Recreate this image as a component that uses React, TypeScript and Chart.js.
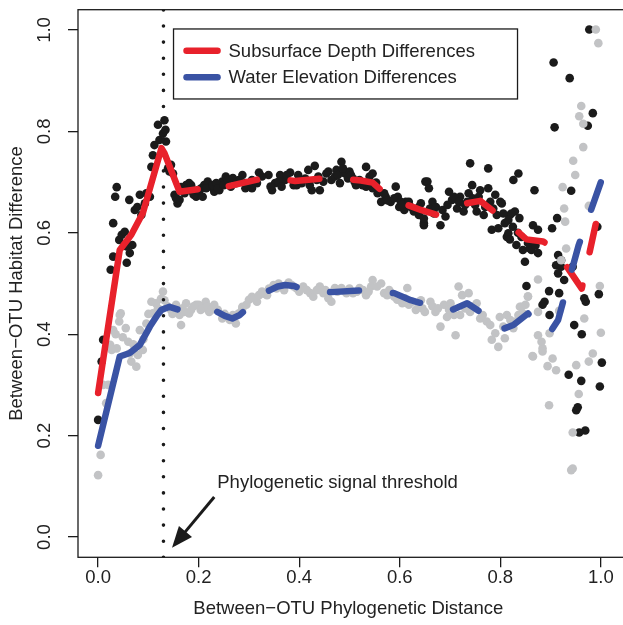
import React, { useEffect, useRef } from 'react';
import { Chart, registerables } from 'chart.js';
Chart.register(...registerables);

// ---------- data ----------
const X_TICKS = [0, 0.2, 0.4, 0.6, 0.8, 1.0];
const Y_TICKS = [0, 0.2, 0.4, 0.6, 0.8, 1.0];
const X_RANGE = [-0.04, 1.0355];
const Y_RANGE = [-0.04, 1.04];
const X_TITLE = 'Between\u2212OTU Phylogenetic Distance';
const Y_TITLE = 'Between\u2212OTU Habitat Difference';
const THRESHOLD_X = 0.13;
const ANNOT_TEXT = 'Phylogenetic signal threshold';
const ANNOT_POS = [0.237, 0.107];
const ARROW_FROM = [0.231, 0.079];
const ARROW_TO = [0.147, -0.021];
const LEGEND_POS = [0.15, 1.002];
const DEPTH_LABEL = 'Subsurface Depth Differences';
const ELEV_LABEL = 'Water Elevation Differences';

const DEPTH_LINE = [
  [0, 0.284], [0.043, 0.566], [0.066, 0.596], [0.089, 0.639], [0.126, 0.767], [0.132, 0.757],
  [0.162, 0.681], [0.198, 0.686], [0.26, 0.692], [0.339, 0.71], [0.392, 0.702], [0.467, 0.709],
  [0.523, 0.703], [0.546, 0.699], [0.582, 0.667], [0.615, 0.655], [0.642, 0.645], [0.675, 0.635],
  [0.704, 0.653], [0.76, 0.663], [0.809, 0.625], [0.852, 0.587], [0.885, 0.583], [0.911, 0.564],
  [0.962, 0.49], [1.0, 0.664],
];

const ELEV_LINE = [
  [0, 0.18], [0.043, 0.356], [0.063, 0.363], [0.083, 0.379], [0.103, 0.415], [0.118, 0.438],
  [0.126, 0.448], [0.142, 0.454], [0.158, 0.449], [0.2, 0.447], [0.237, 0.444], [0.252, 0.436],
  [0.267, 0.431], [0.282, 0.438], [0.296, 0.451], [0.32, 0.475], [0.342, 0.487], [0.357, 0.494],
  [0.372, 0.497], [0.39, 0.495], [0.405, 0.489], [0.464, 0.483], [0.533, 0.487], [0.589, 0.481],
  [0.622, 0.467], [0.655, 0.458], [0.68, 0.455], [0.704, 0.448], [0.734, 0.461], [0.76, 0.444],
  [0.776, 0.425], [0.799, 0.408], [0.826, 0.418], [0.855, 0.441], [0.878, 0.412], [0.898, 0.402],
  [0.915, 0.428], [0.956, 0.576], [1.0, 0.7],
];

const DEPTH_POINTS = [
  [0.0, 0.231], [0.007, 0.346], [0.01, 0.389], [0.025, 0.527], [0.03, 0.553], [0.03, 0.619],
  [0.034, 0.671], [0.037, 0.69], [0.042, 0.586], [0.047, 0.596], [0.053, 0.602], [0.057, 0.573],
  [0.057, 0.541], [0.063, 0.56], [0.068, 0.576], [0.062, 0.665], [0.073, 0.645], [0.078, 0.651],
  [0.083, 0.675], [0.086, 0.635], [0.093, 0.658], [0.096, 0.678], [0.103, 0.671], [0.106, 0.73],
  [0.109, 0.753], [0.112, 0.773], [0.119, 0.813], [0.122, 0.783], [0.129, 0.796], [0.134, 0.803],
  [0.132, 0.822], [0.135, 0.78], [0.139, 0.727], [0.142, 0.721], [0.149, 0.717], [0.152, 0.675],
  [0.158, 0.658], [0.162, 0.665], [0.168, 0.684], [0.175, 0.694], [0.181, 0.698], [0.188, 0.681],
  [0.195, 0.671], [0.201, 0.678], [0.211, 0.694], [0.218, 0.701], [0.224, 0.691], [0.231, 0.681],
  [0.241, 0.684], [0.247, 0.701], [0.254, 0.711], [0.264, 0.691], [0.274, 0.698], [0.287, 0.714],
  [0.293, 0.698], [0.3, 0.694], [0.306, 0.704], [0.32, 0.719], [0.316, 0.698], [0.339, 0.714],
  [0.346, 0.684], [0.352, 0.698], [0.362, 0.714], [0.372, 0.704], [0.382, 0.719], [0.389, 0.694],
  [0.398, 0.714], [0.405, 0.698], [0.418, 0.724], [0.425, 0.684], [0.431, 0.732], [0.435, 0.704],
  [0.441, 0.684], [0.454, 0.717], [0.464, 0.704], [0.474, 0.724], [0.481, 0.698], [0.484, 0.74],
  [0.491, 0.717], [0.5, 0.721], [0.507, 0.707], [0.513, 0.694], [0.533, 0.73], [0.54, 0.711],
  [0.546, 0.717], [0.533, 0.691], [0.546, 0.688], [0.556, 0.678], [0.563, 0.661], [0.572, 0.671],
  [0.582, 0.661], [0.592, 0.691], [0.596, 0.671], [0.599, 0.651], [0.612, 0.661], [0.609, 0.645],
  [0.622, 0.651], [0.632, 0.645], [0.642, 0.658], [0.638, 0.635], [0.648, 0.615], [0.651, 0.701],
  [0.74, 0.737], [0.776, 0.727], [0.836, 0.717], [0.826, 0.704], [0.655, 0.701], [0.658, 0.688],
  [0.868, 0.684], [0.648, 0.619], [0.665, 0.661], [0.668, 0.638], [0.681, 0.615], [0.691, 0.632],
  [0.698, 0.681], [0.704, 0.665], [0.714, 0.648], [0.72, 0.671], [0.727, 0.642], [0.734, 0.661],
  [0.737, 0.678], [0.744, 0.694], [0.753, 0.642], [0.76, 0.684], [0.767, 0.635], [0.776, 0.688],
  [0.783, 0.606], [0.79, 0.675], [0.796, 0.609], [0.803, 0.658], [0.809, 0.619], [0.813, 0.592],
  [0.819, 0.635], [0.829, 0.642], [0.832, 0.576], [0.838, 0.629], [0.845, 0.566], [0.849, 0.543],
  [0.862, 0.566], [0.865, 0.615], [0.875, 0.606], [0.875, 0.56],
  [0.977, 1.001], [0.906, 0.936], [0.938, 0.905], [0.984, 0.836], [0.974, 0.811], [0.908, 0.808],
  [0.8, 0.661], [0.822, 0.638], [0.816, 0.599], [0.819, 0.587], [0.941, 0.683], [0.913, 0.629],
  [0.903, 0.609], [0.993, 0.612], [0.859, 0.569], [0.915, 0.556], [0.921, 0.546], [0.911, 0.536],
  [0.921, 0.533], [0.944, 0.533], [0.915, 0.52], [0.927, 0.507], [0.852, 0.495], [0.897, 0.485],
  [0.917, 0.481], [0.996, 0.479], [0.967, 0.471], [0.97, 0.464], [0.888, 0.464], [0.884, 0.458],
  [0.898, 0.438], [0.947, 0.418], [0.962, 0.4], [1.002, 0.344], [0.936, 0.32], [0.961, 0.308],
  [0.998, 0.297], [0.954, 0.256], [0.951, 0.25], [0.969, 0.21], [0.957, 0.206],
  [0.28, 0.704], [0.293, 0.688], [0.306, 0.688], [0.326, 0.711], [0.343, 0.691], [0.359, 0.701],
  [0.365, 0.691], [0.375, 0.714], [0.395, 0.694], [0.412, 0.707], [0.421, 0.694], [0.438, 0.711],
  [0.448, 0.701], [0.458, 0.721], [0.471, 0.711], [0.477, 0.714], [0.487, 0.727], [0.497, 0.707],
  [0.503, 0.714], [0.51, 0.701], [0.52, 0.704], [0.526, 0.694], [0.539, 0.697], [0.553, 0.699],
  [0.559, 0.681], [0.569, 0.678], [0.576, 0.664], [0.589, 0.668], [0.602, 0.661], [0.605, 0.655],
  [0.618, 0.661], [0.628, 0.642], [0.638, 0.651], [0.648, 0.628],
  [0.165, 0.69], [0.172, 0.678], [0.178, 0.688], [0.185, 0.694], [0.19, 0.675], [0.198, 0.684],
  [0.205, 0.688], [0.208, 0.671], [0.215, 0.688], [0.228, 0.694], [0.235, 0.698], [0.238, 0.688],
  [0.25, 0.694], [0.258, 0.704], [0.268, 0.708], [0.278, 0.701], [0.155, 0.668], [0.145, 0.734],
  [0.66, 0.648], [0.672, 0.651], [0.685, 0.645], [0.695, 0.655], [0.708, 0.671], [0.718, 0.661],
  [0.73, 0.655], [0.745, 0.668], [0.75, 0.655], [0.757, 0.671], [0.77, 0.651], [0.78, 0.661],
  [0.786, 0.648], [0.793, 0.635], [0.806, 0.638], [0.816, 0.625], [0.825, 0.612], [0.835, 0.6],
  [0.842, 0.592], [0.855, 0.58], [0.87, 0.575],
];

const ELEV_POINTS = [
  [0.005, 0.162], [0.0, 0.122], [0.02, 0.3], [0.016, 0.264], [0.024, 0.379], [0.03, 0.408],
  [0.037, 0.372], [0.042, 0.425], [0.045, 0.441], [0.049, 0.394], [0.06, 0.385], [0.063, 0.362],
  [0.066, 0.346], [0.076, 0.336], [0.079, 0.359], [0.083, 0.408], [0.089, 0.369], [0.096, 0.421],
  [0.106, 0.464], [0.109, 0.441], [0.119, 0.451], [0.129, 0.484], [0.132, 0.467], [0.145, 0.448],
  [0.155, 0.458], [0.162, 0.438], [0.165, 0.418], [0.175, 0.461], [0.181, 0.441], [0.195, 0.458],
  [0.204, 0.448], [0.214, 0.464], [0.221, 0.444], [0.231, 0.458], [0.247, 0.431], [0.257, 0.434],
  [0.274, 0.421], [0.287, 0.451], [0.027, 0.369], [0.043, 0.438],
  [0.287, 0.454], [0.306, 0.474], [0.316, 0.464], [0.326, 0.484], [0.336, 0.477], [0.349, 0.497],
  [0.359, 0.5], [0.379, 0.502], [0.389, 0.494], [0.408, 0.494], [0.422, 0.481], [0.428, 0.474],
  [0.441, 0.494], [0.448, 0.481], [0.458, 0.471], [0.464, 0.464], [0.471, 0.491], [0.484, 0.491],
  [0.494, 0.481], [0.507, 0.481], [0.52, 0.491], [0.533, 0.477], [0.546, 0.507], [0.543, 0.494],
  [0.563, 0.5], [0.569, 0.481], [0.579, 0.487], [0.589, 0.474], [0.605, 0.461], [0.615, 0.491],
  [0.625, 0.464], [0.632, 0.448], [0.645, 0.451],
  [0.642, 0.467], [0.661, 0.464], [0.671, 0.444], [0.681, 0.415], [0.688, 0.458], [0.694, 0.434],
  [0.701, 0.461], [0.711, 0.398], [0.717, 0.494], [0.724, 0.477], [0.72, 0.438], [0.737, 0.481],
  [0.74, 0.444], [0.753, 0.461], [0.76, 0.431], [0.773, 0.425], [0.783, 0.389], [0.79, 0.402],
  [0.796, 0.375], [0.799, 0.434], [0.809, 0.392], [0.813, 0.438], [0.826, 0.412], [0.836, 0.438],
  [0.842, 0.454], [0.855, 0.474], [0.865, 0.356], [0.875, 0.398], [0.884, 0.372],
  [0.99, 1.001], [0.995, 0.974], [0.961, 0.85], [0.957, 0.83], [0.965, 0.815], [0.965, 0.769],
  [0.945, 0.742], [0.949, 0.714], [0.924, 0.69], [0.976, 0.653], [0.927, 0.648], [0.929, 0.622],
  [0.931, 0.569], [0.921, 0.546], [0.875, 0.508], [0.855, 0.475], [0.998, 0.495], [0.839, 0.454],
  [0.845, 0.441], [0.875, 0.444], [0.917, 0.446], [0.898, 0.402], [0.882, 0.385], [0.884, 0.366],
  [0.904, 0.352], [0.894, 0.337], [0.911, 0.329], [0.864, 0.357], [0.967, 0.431], [1.0, 0.403],
  [0.984, 0.362], [0.976, 0.346], [0.951, 0.339], [0.956, 0.282], [0.897, 0.26], [0.944, 0.206],
  [0.944, 0.135], [0.941, 0.132],
  [0.138, 0.455], [0.148, 0.44], [0.168, 0.451], [0.171, 0.444], [0.185, 0.448], [0.19, 0.455],
  [0.2, 0.458], [0.208, 0.451], [0.218, 0.455], [0.225, 0.448], [0.238, 0.448], [0.252, 0.44],
  [0.262, 0.428], [0.268, 0.438], [0.28, 0.441], [0.295, 0.458], [0.3, 0.468], [0.31, 0.471],
  [0.32, 0.477], [0.33, 0.48], [0.34, 0.49], [0.355, 0.49], [0.365, 0.494], [0.37, 0.487],
  [0.385, 0.497], [0.395, 0.49], [0.4, 0.484], [0.415, 0.487], [0.435, 0.487], [0.452, 0.487],
  [0.476, 0.484], [0.49, 0.485], [0.5, 0.49], [0.515, 0.484], [0.527, 0.487], [0.538, 0.484],
  [0.555, 0.494], [0.575, 0.477], [0.585, 0.48], [0.595, 0.468], [0.61, 0.471], [0.618, 0.458],
  [0.638, 0.458], [0.65, 0.444], [0.665, 0.455], [0.676, 0.451], [0.698, 0.448], [0.708, 0.438],
  [0.73, 0.451], [0.745, 0.455], [0.765, 0.438], [0.78, 0.418], [0.806, 0.415], [0.82, 0.428],
  [0.83, 0.425], [0.85, 0.458],
  [0.01, 0.3], [0.035, 0.4], [0.055, 0.412], [0.07, 0.38], [0.09, 0.39], [0.1, 0.44],
  [0.115, 0.461], [0.125, 0.47],
];

// ---------- styles ----------
const FONT = "'Liberation Sans', Arial, Helvetica, sans-serif";
const FONT_SIZE = 18.5;
const TEXT_COLOR = '#222';
const RED = '#E8212B';
const BLUE = '#3A53A4';
const GRAY = '#C2C3C5';
const BLACK = '#1b1b1b';
const RED_SOLID_END = 0.198;
const RED_DASH_START = 0.26;
const BLUE_SOLID_END = 0.158;
const BLUE_DASH_START = 0.237;
const DASH = [29, 34];

const toXY = (arr: number[][]) => arr.map(([x, y]) => ({ x, y }));

const segStyle = (solidEnd: number, dashStart: number) => ({
  borderDash: (ctx: any) => (ctx.p0.parsed.x >= dashStart - 1e-9 ? DASH : undefined),
  borderColor: (ctx: any) =>
    ctx.p0.parsed.x >= solidEnd - 1e-9 && ctx.p1.parsed.x <= dashStart + 1e-9 ? 'rgba(0,0,0,0)' : undefined,
});

const decorPlugin = {
  id: 'decor',
  afterDraw(chart: any) {
    const { ctx, chartArea: ca, scales } = chart;
    const xs = scales.x;
    const ys = scales.y;
    const px = (v: number) => xs.getPixelForValue(v);
    const py = (v: number) => ys.getPixelForValue(v);
    ctx.save();
    // box
    ctx.strokeStyle = BLACK;
    ctx.lineWidth = 1.3;
    ctx.strokeRect(ca.left, ca.top, ca.right - ca.left + 10, ca.bottom - ca.top);
    // y tick labels (rotated like R)
    ctx.font = `${FONT_SIZE}px ${FONT}`;
    ctx.fillStyle = TEXT_COLOR;
    ctx.textAlign = 'center';
    ctx.textBaseline = 'middle';
    for (const v of Y_TICKS) {
      ctx.save();
      ctx.translate(ca.left - 34, py(v));
      ctx.rotate(-Math.PI / 2);
      ctx.fillText(v.toFixed(1), 0, 1);
      ctx.restore();
    }
    // annotation text
    ctx.textAlign = 'left';
    ctx.fillText(ANNOT_TEXT, px(ANNOT_POS[0]), py(ANNOT_POS[1]));
    // arrow
    const x1 = px(ARROW_FROM[0]), y1 = py(ARROW_FROM[1]);
    const x2 = px(ARROW_TO[0]), y2 = py(ARROW_TO[1]);
    const ang = Math.atan2(y2 - y1, x2 - x1);
    const headLen = 21, headHalf = 8.5;
    const bx = x2 - headLen * Math.cos(ang), by = y2 - headLen * Math.sin(ang);
    ctx.strokeStyle = BLACK;
    ctx.fillStyle = BLACK;
    ctx.lineWidth = 3;
    ctx.beginPath();
    ctx.moveTo(x1, y1);
    ctx.lineTo(bx + 4 * Math.cos(ang), by + 4 * Math.sin(ang));
    ctx.stroke();
    ctx.beginPath();
    ctx.moveTo(x2, y2);
    ctx.lineTo(bx + headHalf * Math.sin(ang), by - headHalf * Math.cos(ang));
    ctx.lineTo(bx - headHalf * Math.sin(ang), by + headHalf * Math.cos(ang));
    ctx.closePath();
    ctx.fill();
    // legend
    const lx = px(LEGEND_POS[0]), ly = py(LEGEND_POS[1]);
    const lw = 344, lh = 70;
    ctx.fillStyle = '#fff';
    ctx.fillRect(lx, ly, lw, lh);
    ctx.strokeStyle = BLACK;
    ctx.lineWidth = 1.3;
    ctx.strokeRect(lx, ly, lw, lh);
    const items = chart.data.datasets
      .filter((d: any) => d.legendRank !== undefined)
      .sort((a: any, b: any) => a.legendRank - b.legendRank);
    items.forEach((d: any, i: number) => {
      const yy = ly + 21.7 + i * 26.6;
      ctx.strokeStyle = d.borderColor;
      ctx.lineWidth = 6.5;
      ctx.lineCap = 'round';
      ctx.beginPath();
      ctx.moveTo(lx + 13, yy);
      ctx.lineTo(lx + 44, yy);
      ctx.stroke();
      ctx.fillStyle = TEXT_COLOR;
      ctx.textAlign = 'left';
      ctx.textBaseline = 'middle';
      ctx.fillText(d.label, lx + 55, yy + 1);
    });
    ctx.restore();
  },
};

export default function App() {
  const ref = useRef<HTMLCanvasElement | null>(null);
  useEffect(() => {
    if (!ref.current) return;
    const chart = new Chart(ref.current, {
      type: 'scatter',
      data: {
        datasets: [
          {
            type: 'line',
            label: ELEV_LABEL,
            legendRank: 1,
            data: toXY(ELEV_LINE),
            borderColor: BLUE,
            borderWidth: 6.5,
            borderCapStyle: 'round',
            borderJoinStyle: 'round',
            pointRadius: 0,
            tension: 0,
            segment: segStyle(BLUE_SOLID_END, BLUE_DASH_START),
            order: 1,
          } as any,
          {
            type: 'line',
            label: DEPTH_LABEL,
            legendRank: 0,
            data: toXY(DEPTH_LINE),
            borderColor: RED,
            borderWidth: 6.5,
            borderCapStyle: 'round',
            borderJoinStyle: 'round',
            pointRadius: 0,
            tension: 0,
            segment: segStyle(RED_SOLID_END, RED_DASH_START),
            order: 2,
          } as any,
          {
            type: 'line',
            label: 'threshold',
            data: [{ x: THRESHOLD_X, y: Y_RANGE[0] }, { x: THRESHOLD_X, y: Y_RANGE[1] }],
            borderColor: BLACK,
            borderWidth: 3.6,
            borderCapStyle: 'round',
            borderDash: [0, 16.1],
            pointRadius: 0,
            order: 3,
          } as any,
          {
            label: 'elev points',
            data: toXY(ELEV_POINTS),
            backgroundColor: GRAY,
            borderWidth: 0,
            pointRadius: 4.3,
            order: 4,
          },
          {
            label: 'depth points',
            data: toXY(DEPTH_POINTS),
            backgroundColor: BLACK,
            borderWidth: 0,
            pointRadius: 4.3,
            order: 5,
          },
        ],
      },
      options: {
        animation: false,
        responsive: false,
        devicePixelRatio: 1,
        events: [],
        layout: { padding: { top: 9.7, left: 0, right: 0, bottom: 0 } },
        plugins: { legend: { display: false }, tooltip: { enabled: false } },
        scales: {
          x: {
            type: 'linear',
            min: X_RANGE[0],
            max: X_RANGE[1],
            afterBuildTicks: (s: any) => { s.ticks = X_TICKS.map((value) => ({ value })); },
            afterFit: (s: any) => { s.height = 67.7; },
            grid: { drawOnChartArea: false, drawTicks: true, tickLength: 10, color: BLACK, lineWidth: 1.3 },
            border: { display: false },
            ticks: {
              padding: 0,
              color: TEXT_COLOR,
              font: { family: FONT, size: FONT_SIZE },
              callback: (v: any) => Number(v).toFixed(1),
              maxRotation: 0,
              autoSkip: false,
            },
            title: {
              display: true,
              text: X_TITLE,
              color: TEXT_COLOR,
              font: { family: FONT, size: FONT_SIZE },
              padding: { top: 0, bottom: 5 },
            },
          },
          y: {
            type: 'linear',
            min: Y_RANGE[0],
            max: Y_RANGE[1],
            afterBuildTicks: (s: any) => { s.ticks = Y_TICKS.map((value) => ({ value })); },
            afterFit: (s: any) => { s.width = 78; },
            grid: { drawOnChartArea: false, drawTicks: true, tickLength: 10, color: BLACK, lineWidth: 1.3 },
            border: { display: false },
            ticks: { display: false },
            title: {
              display: true,
              text: Y_TITLE,
              color: TEXT_COLOR,
              font: { family: FONT, size: FONT_SIZE },
              padding: { top: 5.5, bottom: 0 },
            },
          },
        },
      } as any,
      plugins: [decorPlugin],
    });
    return () => chart.destroy();
  }, []);
  return (
    <canvas
      ref={ref}
      width={623}
      height={625}
      style={{ position: 'fixed', left: 0, top: 0, display: 'block', width: 623, height: 625 }}
    />
  );
}
